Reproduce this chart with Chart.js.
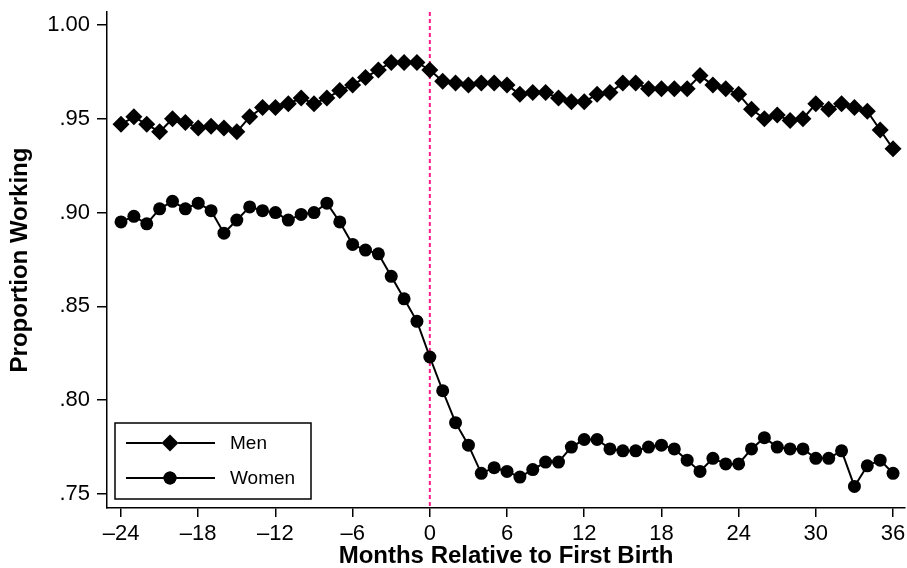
<!DOCTYPE html>
<html><head><meta charset="utf-8">
<script src="https://cdn.jsdelivr.net/npm/chart.js@4"></script>
<style>html,body{margin:0;padding:0;background:#fff}#wrap{width:907px;height:568px;position:relative}</style>
</head><body><div id="wrap"><canvas id="c"></canvas></div>
<script>
const months = [-24,-23,-22,-21,-20,-19,-18,-17,-16,-15,-14,-13,-12,-11,-10,-9,-8,-7,-6,-5,-4,-3,-2,-1,0,1,2,3,4,5,6,7,8,9,10,11,12,13,14,15,16,17,18,19,20,21,22,23,24,25,26,27,28,29,30,31,32,33,34,35,36];
const menValues = [0.947,0.951,0.947,0.943,0.950,0.948,0.945,0.946,0.945,0.943,0.951,0.956,0.956,0.958,0.961,0.958,0.961,0.965,0.968,0.972,0.976,0.980,0.980,0.980,0.976,0.970,0.969,0.968,0.969,0.969,0.968,0.963,0.964,0.964,0.961,0.959,0.959,0.963,0.964,0.969,0.969,0.966,0.966,0.966,0.966,0.973,0.968,0.966,0.963,0.955,0.950,0.952,0.949,0.950,0.958,0.955,0.958,0.956,0.954,0.944,0.934];
const womenValues = [0.895,0.898,0.894,0.902,0.906,0.902,0.905,0.901,0.889,0.896,0.903,0.901,0.900,0.896,0.899,0.900,0.905,0.895,0.883,0.880,0.878,0.866,0.854,0.842,0.823,0.805,0.788,0.776,0.761,0.764,0.762,0.759,0.763,0.767,0.767,0.775,0.779,0.779,0.774,0.773,0.773,0.775,0.776,0.774,0.768,0.762,0.769,0.766,0.766,0.774,0.780,0.775,0.774,0.774,0.769,0.769,0.773,0.754,0.765,0.768,0.761];
const seriesLabels = ["Men","Women"];
const xTickValues = [-24,-18,-12,-6,0,6,12,18,24,30,36];
const xTickLabels = ["\u201324","\u201318","\u201312","\u20136","0","6","12","18","24","30","36"];
const yTickValues = [0.75,0.80,0.85,0.90,0.95,1.00];
const yTickLabels = [".75",".80",".85",".90",".95","1.00"];
const eventMonth = 0;
const xTitle = "Months Relative to First Birth";
const yTitle = "Proportion Working";

const FONT = "'Liberation Sans', Arial, sans-serif";

const eventLine = {
  id: 'eventLine',
  beforeDatasetsDraw(chart) {
    const {ctx, chartArea, scales} = chart;
    const x = scales.x.getPixelForValue(eventMonth);
    ctx.save();
    ctx.strokeStyle = '#ff1a8c';
    ctx.lineWidth = 2;
    ctx.setLineDash([4, 3]);
    ctx.beginPath();
    ctx.moveTo(x, chartArea.top);
    ctx.lineTo(x, chartArea.bottom);
    ctx.stroke();
    ctx.restore();
  }
};

const boxLegend = {
  id: 'boxLegend',
  afterDatasetsDraw(chart) {
    const ctx = chart.ctx;
    const bx = 115, by = 423, bw = 196, bh = 76;
    ctx.save();
    ctx.fillStyle = '#fff';
    ctx.fillRect(bx, by, bw, bh);
    ctx.strokeStyle = '#000';
    ctx.lineWidth = 1.5;
    ctx.strokeRect(bx, by, bw, bh);
    chart.data.datasets.forEach((ds, i) => {
      const cy = by + 20 + i * 35;
      ctx.strokeStyle = ds.borderColor;
      ctx.lineWidth = ds.borderWidth;
      ctx.beginPath();
      ctx.moveTo(bx + 11, cy);
      ctx.lineTo(bx + 100, cy);
      ctx.stroke();
      Chart.helpers.drawPoint(ctx, {pointStyle: ds.pointStyle, radius: ds.pointRadius, borderWidth: 0, rotation: 0}, bx + 55, cy);
      ctx.fillStyle = '#000';
      ctx.fill();
      ctx.font = "19px " + FONT;
      ctx.textBaseline = 'middle';
      ctx.textAlign = 'left';
      ctx.fillText(ds.label, bx + 115, cy + 1);
    });
    ctx.restore();
  }
};

new Chart(document.getElementById('c'), {
  type: 'line',
  data: {
    datasets: [
      {
        label: seriesLabels[0],
        data: months.map((m, i) => ({x: m, y: menValues[i]})),
        borderColor: '#000', borderWidth: 2,
        pointStyle: 'rectRot', pointRadius: 8.5, pointBackgroundColor: '#000', pointBorderWidth: 0,
        tension: 0
      },
      {
        label: seriesLabels[1],
        data: months.map((m, i) => ({x: m, y: womenValues[i]})),
        borderColor: '#000', borderWidth: 2,
        pointStyle: 'circle', pointRadius: 6.5, pointBackgroundColor: '#000', pointBorderWidth: 0,
        tension: 0
      }
    ]
  },
  options: {
    responsive: true, maintainAspectRatio: false, animation: false, devicePixelRatio: 1,
    layout: {autoPadding: false, padding: {top: 12, right: 2, left: 0, bottom: 0}},
    plugins: {legend: {display: false}, tooltip: {enabled: false}},
    scales: {
      x: {
        type: 'linear', min: -25.09, max: 36.93,
        afterBuildTicks: s => { s.ticks = xTickValues.map(v => ({value: v})); },
        afterFit: s => { s.height = 60; s.paddingLeft = 0; s.paddingRight = 0; },
        ticks: {
          callback: (v) => xTickLabels[xTickValues.indexOf(v)],
          color: '#000', font: {family: FONT, size: 22}, padding: 4, maxRotation: 0, autoSkip: false
        },
        grid: {drawOnChartArea: false, drawTicks: true, tickLength: 9, color: '#000', lineWidth: 1.5},
        border: {display: true, color: '#000', width: 1.5},
        title: {display: true, text: xTitle, color: '#000', font: {family: FONT, size: 24, weight: 'bold', lineHeight: 1}, padding: {top: 0, bottom: 0}}
      },
      y: {
        type: 'linear', min: 0.7425, max: 1.0069,
        afterBuildTicks: s => { s.ticks = yTickValues.map(v => ({value: v})); },
        afterFit: s => { s.width = 107; s.paddingTop = 0; s.paddingBottom = 0; },
        ticks: {
          callback: (v) => yTickLabels[yTickValues.findIndex(t => Math.abs(t - v) < 1e-6)],
          color: '#000', font: {family: FONT, size: 22}, padding: 7, autoSkip: false
        },
        grid: {drawOnChartArea: false, drawTicks: true, tickLength: 10, color: '#000', lineWidth: 1.5},
        border: {display: true, color: '#000', width: 1.5},
        title: {display: true, text: yTitle, color: '#000', font: {family: FONT, size: 24, weight: 'bold'}, padding: {top: 6, bottom: 0}}
      }
    }
  },
  plugins: [eventLine, boxLegend]
});
</script></body></html>
